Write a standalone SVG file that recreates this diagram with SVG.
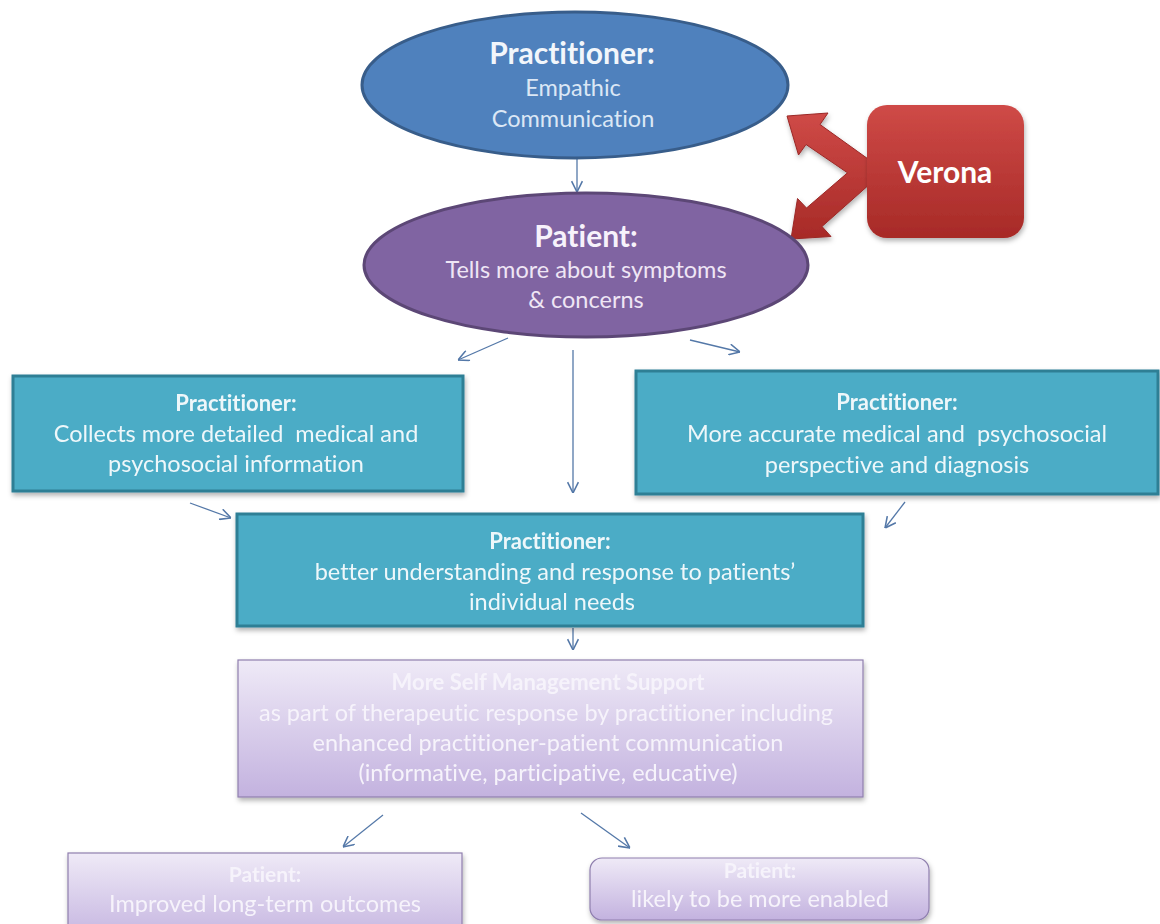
<svg xmlns="http://www.w3.org/2000/svg" width="1160" height="924" viewBox="0 0 1160 924">
<style>
text{font-family:Lato,"Open Sans","Liberation Sans",sans-serif;text-anchor:middle;white-space:pre;font-variant-ligatures:none}
.t{font-size:23.5px}
.b{font-weight:bold}
.tl{fill:#eef7fa}
.lv{fill:#f6f3fb}
.teal{fill:#4bacc6;stroke:#2f7f95;stroke-width:3}
.lav{fill:url(#gl);stroke:#8f7fae;stroke-width:1.2}
.con{fill:none;stroke:#5478a8;stroke-width:1.3;marker-end:url(#ah)}
</style>
<defs>
<marker id="ah" markerWidth="12" markerHeight="12" refX="10" refY="5" orient="auto" markerUnits="userSpaceOnUse" viewBox="0 0 10 10">
<path d="M1,0.5 L10,5 L1,9.5" fill="none" stroke="#5478a8" stroke-width="1.3"/>
</marker>
<linearGradient id="gl" x1="0" y1="0" x2="0" y2="1">
<stop offset="0" stop-color="#efeaf7"/>
<stop offset="1" stop-color="#c3b2df"/>
</linearGradient>
<linearGradient id="gr" x1="0" y1="0" x2="0" y2="1">
<stop offset="0" stop-color="#cf4a47"/>
<stop offset="1" stop-color="#a72a27"/>
</linearGradient>
<filter id="sh" x="-10%" y="-10%" width="120%" height="130%">
<feDropShadow dx="1" dy="3" stdDeviation="2.5" flood-color="#000" flood-opacity="0.3"/>
</filter>
</defs>

<g id="connectors">
<line class="con" x1="577" y1="158" x2="577" y2="192"/>
<line class="con" x1="508" y1="338" x2="458" y2="360"/>
<line class="con" x1="573" y1="350" x2="573" y2="493"/>
<line class="con" x1="690" y1="340" x2="740" y2="352"/>
<line class="con" x1="190" y1="503" x2="231" y2="518"/>
<line class="con" x1="905" y1="502" x2="885" y2="528"/>
<line class="con" x1="573" y1="628" x2="573" y2="650"/>
<line class="con" x1="383" y1="815" x2="343" y2="847"/>
<line class="con" x1="581" y1="813" x2="630" y2="848"/>
</g>

<g id="verona-arrow">
<path d="M787,116 L828,113 L820,124.5 L880,167.5 L880,175 L822,226.5 L831,236.5 L791,239 L797.5,198.5 L806.5,208 L847.5,172.8 L806,144.5 L798.5,155 Z" fill="url(#gr)" stroke="#9a2826" stroke-width="1" filter="url(#sh)"/>
</g>

<g id="n-practitioner-empathic">
<ellipse cx="575" cy="85" rx="213" ry="73" fill="#4f81bd" stroke="#385d8a" stroke-width="3"/>
<text x="572" y="64" class="b" font-size="30" fill="#f2f6fb">Practitioner:</text>
<text x="573" y="96" class="t" fill="#dbe7f5">Empathic</text>
<text x="573" y="127" class="t" fill="#dbe7f5">Communication</text>
</g>

<g id="n-patient-tells">
<ellipse cx="586" cy="265" rx="222" ry="72" fill="#8064a2" stroke="#5c4776" stroke-width="3"/>
<text x="586" y="247" class="b" font-size="30" fill="#f7f2fb">Patient:</text>
<text x="586" y="278" class="t" fill="#efe6f5">Tells more about symptoms</text>
<text x="586" y="308" class="t" fill="#efe6f5">&amp; concerns</text>
</g>

<g id="n-verona">
<rect x="867" y="105" width="157" height="133" rx="20" fill="url(#gr)" filter="url(#sh)"/>
<text x="945" y="183" class="b" font-size="30" fill="#ffffff">Verona</text>
</g>

<g id="n-collects" filter="url(#sh)">
<rect class="teal" x="13" y="376" width="450" height="115"/>
<text x="236" y="411" class="b tl" font-size="22">Practitioner:</text>
<text x="236" y="442" class="t tl">Collects more detailed  medical and</text>
<text x="236" y="472" class="t tl">psychosocial information</text>
</g>

<g id="n-accurate" filter="url(#sh)">
<rect class="teal" x="636" y="371" width="522" height="123"/>
<text x="897" y="410" class="b tl" font-size="22">Practitioner:</text>
<text x="897" y="442" class="t tl">More accurate medical and  psychosocial</text>
<text x="897" y="473" class="t tl">perspective and diagnosis</text>
</g>

<g id="n-better" filter="url(#sh)">
<rect class="teal" x="237" y="514" width="626" height="112"/>
<text x="550" y="549" class="b tl" font-size="22">Practitioner:</text>
<text x="555" y="580" class="t tl">better understanding and response to patients’</text>
<text x="552" y="610" class="t tl">individual needs</text>
</g>

<g id="n-self-management" filter="url(#sh)">
<rect class="lav" x="238" y="660" width="625" height="137"/>
<text x="548" y="690" class="b lv" font-size="22">More Self Management Support</text>
<text x="546" y="721" class="t lv">as part of therapeutic response by practitioner including</text>
<text x="548" y="751" class="t lv">enhanced practitioner-patient communication</text>
<text x="548" y="781" class="t lv">(informative, participative, educative)</text>
</g>

<g id="n-improved" filter="url(#sh)">
<rect class="lav" x="68" y="853" width="394" height="90"/>
<text x="265" y="882" class="b lv" font-size="21">Patient:</text>
<text x="265" y="912" class="t lv">Improved long-term outcomes</text>
</g>

<g id="n-enabled" filter="url(#sh)">
<rect class="lav" x="590" y="858" width="339" height="62" rx="12"/>
<text x="760" y="878" class="b lv" font-size="21">Patient:</text>
<text x="760" y="907" class="t lv">likely to be more enabled</text>
</g>
</svg>
